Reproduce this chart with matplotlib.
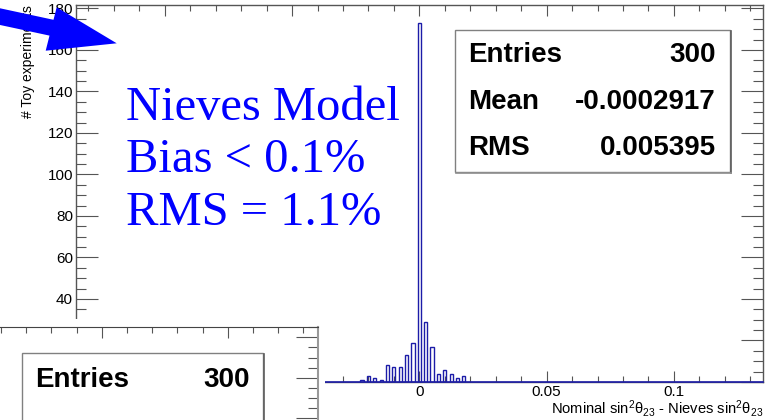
import numpy as np
import matplotlib
matplotlib.use('Agg')
import matplotlib.pyplot as plt
from matplotlib.patches import Rectangle, Polygon
from matplotlib.ticker import MultipleLocator, FuncFormatter

plt.rcParams['font.family'] = ['Liberation Sans', 'DejaVu Sans']
plt.rcParams['mathtext.fontset'] = 'custom'
plt.rcParams['mathtext.rm'] = 'Liberation Sans'
plt.rcParams['mathtext.it'] = 'Liberation Sans:italic'

# toy-MC residuals, one entry per bin centre
bin_centers = [-0.0225, -0.0200, -0.0175, -0.0150, -0.0125, -0.0100, -0.0075,
               -0.0050, -0.0025, 0.0, 0.0025, 0.0050, 0.0075, 0.0100,
               0.0125, 0.0150, 0.0175]
counts = [1, 3, 2, 1, 8, 7, 7, 13, 19, 173, 29, 17, 4, 6, 4, 2, 3]
bin_width = 0.00125

n_entries = 300
mean_val = "-0.0002917"
rms_val = "0.005395"
model_lines = ["Nieves Model", "Bias < 0.1%", "RMS = 1.1%"]

W, H = 768, 420
hist_col = '#1c1ca8'
frame_col = '#555555'


def fx(x):
    return x / W


def fy(y):
    return 1. - y / H


fig = plt.figure(figsize=(W / 100., H / 100.), dpi=100)

# main histogram pad
ax = fig.add_axes([fx(75.7), fy(382), (763 - 75.7) / W, 377. / H])
ax.set_zorder(1)
ax.bar(bin_centers, counts, width=bin_width, fill=False, edgecolor=hist_col,
       linewidth=1.0, zorder=3)
ax.axhline(0, color=hist_col, lw=1.2, zorder=3, clip_on=False)
ax.set_xlim(-0.135, 0.135)
ax.set_ylim(0, 1.05 * max(counts))
ax.xaxis.set_major_locator(MultipleLocator(0.05))
ax.xaxis.set_minor_locator(MultipleLocator(0.01))
ax.yaxis.set_major_locator(MultipleLocator(20))
ax.yaxis.set_minor_locator(MultipleLocator(5))
# labels in the lower-left corner sit under the neighbouring pad
ax.xaxis.set_major_formatter(
    FuncFormatter(lambda v, p: '%g' % round(v, 4) if v > -0.04 else ''))
ax.yaxis.set_major_formatter(
    FuncFormatter(lambda v, p: '%d' % v if v > 30 else ''))
ax.tick_params(which='both', direction='in', top=True, right=True,
               color=frame_col, width=0.8)
ax.tick_params(axis='x', which='major', length=8, labelsize=11, pad=2)
ax.tick_params(axis='x', which='minor', length=4)
ax.tick_params(axis='y', which='major', length=15.5, labelsize=11, pad=2)
ax.tick_params(axis='y', which='minor', length=7.5)
for s in ax.spines.values():
    s.set_color(frame_col)
    s.set_linewidth(1.0)
ax.set_xlabel(r'Nominal sin$^{2}\mathrm{\theta}_{23}$ - Nieves sin$^{2}\mathrm{\theta}_{23}$',
              loc='right', fontsize=10.6, labelpad=-0.3)
ax.set_ylabel('# Toy experiments', loc='top', fontsize=10, labelpad=9)

# white pad of the neighbouring canvas
cover = Rectangle((0, fy(420)), 325. / W, (420 - 319.) / H,
                  transform=fig.transFigure, facecolor='white',
                  edgecolor='none', zorder=2)
fig.add_artist(cover)

ax2 = fig.add_axes([0, 0, 318. / W, 93. / H])
ax2.set_zorder(3)
ax2.set_xlim(-0.09036, 0.03583)
ax2.set_ylim(79.17, 125.09)
ax2.xaxis.set_major_locator(MultipleLocator(0.05))
ax2.xaxis.set_minor_locator(MultipleLocator(0.01))
ax2.yaxis.set_major_locator(MultipleLocator(20))
ax2.yaxis.set_minor_locator(MultipleLocator(5))
ax2.tick_params(which='both', direction='in', top=True, right=True,
                bottom=False, left=False, labelbottom=False, labelleft=False,
                color=frame_col, width=0.8)
ax2.tick_params(axis='x', which='major', length=7.9)
ax2.tick_params(axis='x', which='minor', length=4)
ax2.tick_params(axis='y', which='major', length=15.6)
ax2.tick_params(axis='y', which='minor', length=7.4)
ax2.spines['left'].set_visible(False)
ax2.spines['bottom'].set_visible(False)
ax2.spines['top'].set_color('#444444')
ax2.spines['right'].set_color('#999999')
ax2.spines['right'].set_linewidth(1.5)

# annotation layer in pixel coordinates
ov = fig.add_axes([0, 0, 1, 1])
ov.set_zorder(4)
ov.set_xlim(0, W)
ov.set_ylim(H, 0)
ov.axis('off')

arrow = Polygon([(-5, 7.2), (53.5, 19.8), (56.7, 7.3), (116.7, 43.3),
                 (45.7, 50.7), (49.5, 35.6), (-5, 23.9)],
                closed=True, facecolor='#0000ff', edgecolor='none')
ov.add_patch(arrow)

for txt, yb in zip(model_lines, [120, 172, 225]):
    ov.text(126, yb, txt, color='#0000ff', fontsize=35,
            family='Liberation Serif', va='baseline', ha='left')

# stats box
ov.add_patch(Rectangle((455, 30), 275, 141.7, facecolor='white',
                       edgecolor='#808080', lw=1.0))
ov.plot([731, 731], [31, 172.5], color='#606060', lw=1.2)
ov.plot([456, 731], [172.5, 172.5], color='#909090', lw=1.2)
rows = [("Entries", str(n_entries)), ("Mean", mean_val), ("RMS", rms_val)]
for (lab, val), yc in zip(rows, [55, 101.7, 148]):
    ov.text(468, yc, lab, fontsize=20, fontweight='bold', va='center', ha='left')
    ov.text(716, yc, val, fontsize=20, fontweight='bold', va='center', ha='right')

# stats box of the neighbouring canvas
ov.add_patch(Rectangle((22, 352.7), 241, 100, facecolor='white',
                       edgecolor='#808080', lw=1.0))
ov.plot([264, 264], [353.5, 430], color='#606060', lw=1.2)
ov.text(35, 380, "Entries", fontsize=20, fontweight='bold', va='center', ha='left')
ov.text(250, 380, str(n_entries), fontsize=20, fontweight='bold', va='center', ha='right')

fig.savefig('out.png', dpi=100)
